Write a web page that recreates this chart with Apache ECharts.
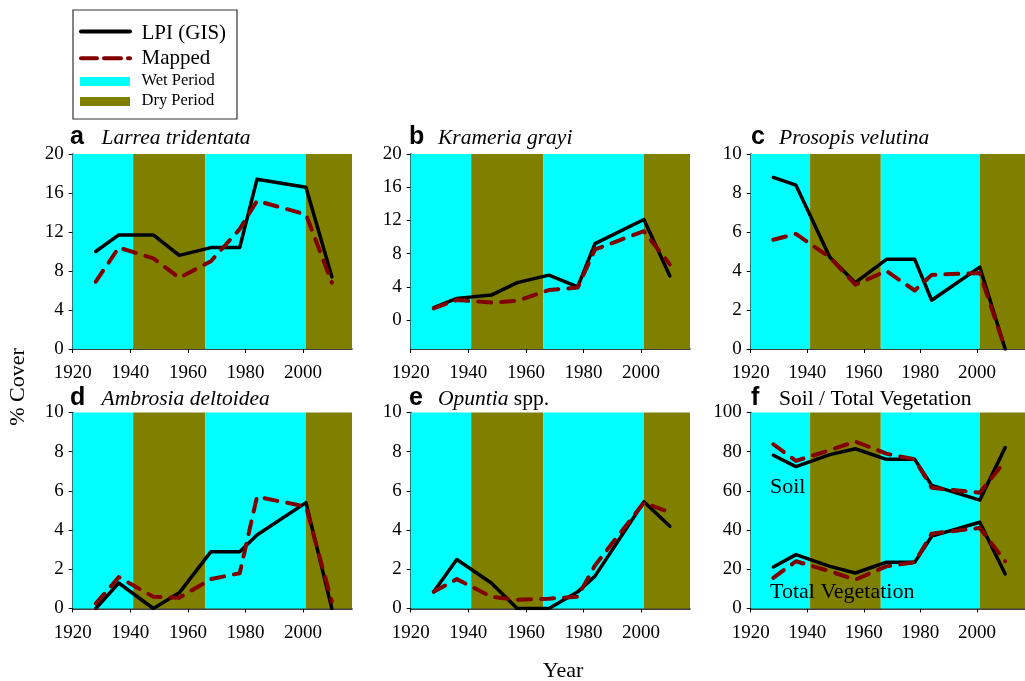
<!DOCTYPE html>
<html><head><meta charset="utf-8">
<script src="https://cdn.jsdelivr.net/npm/echarts@6/dist/echarts.min.js"></script>
<style>html,body{margin:0;padding:0;background:#fff}#c{width:1025px;height:681px}</style>
</head><body><div id="c"></div><script>
// ---- data ----
const years = [1928, 1936, 1948, 1957, 1968, 1978, 1984, 2001, 2010];
const xTicks = [1920, 1940, 1960, 1980, 2000];
const periods = [[1920, 1941, 'wet'], [1941, 1966, 'dry'], [1966, 2001, 'wet'], [2001, 2017, 'dry']];

const larreaLPI    = [10.0, 11.7, 11.7, 9.6, 10.4, 10.4, 17.4, 16.6, 7.4];
const larreaMapped = [6.9, 10.4, 9.3, 7.3, 9.0, 12.3, 15.2, 13.8, 6.8];
const kramLPI      = [1.5, 2.6, 3.0, 4.5, 5.4, 4.0, 9.2, 12.1, 5.3];
const kramMapped   = [1.4, 2.4, 2.1, 2.3, 3.6, 3.9, 8.5, 10.7, 6.7];
const prosLPI      = [8.8, 8.4, 4.7, 3.4, 4.6, 4.6, 2.5, 4.2, 0];
const prosMapped   = [5.6, 5.9, 4.7, 3.3, 4.0, 3.0, 3.8, 3.9, 0];
const ambLPI       = [0, 1.3, 0, 0.8, 2.9, 2.9, 3.75, 5.4, 0];
const ambMapped    = [0.25, 1.6, 0.6, 0.55, 1.5, 1.8, 5.7, 5.2, 0.35];
const opuLPI       = [0.85, 2.5, 1.3, 0, 0, 0.85, 1.65, 5.45, 4.2];
const opuMapped    = [0.85, 1.5, 0.6, 0.45, 0.5, 0.6, 2.2, 5.4, 4.9];
const soilLPI      = [78.2, 72.4, 78.5, 81.5, 76.1, 76.1, 62.8, 55.3, 82.1];
const soilMapped   = [83.8, 75.3, 80.8, 85.2, 79.0, 76.1, 61.6, 59.1, 75.3];
const vegLPI       = [21.2, 27.5, 21.5, 18.1, 23.6, 23.6, 36.9, 44.0, 17.6];
const vegMapped    = [15.6, 24.1, 19.0, 14.7, 21.5, 23.6, 38.2, 41.1, 24.1];

const yA = {min: 0, max: 20, ticks: [0, 4, 8, 12, 16, 20]};
const yB = {min: -3.5, max: 20, ticks: [0, 4, 8, 12, 16, 20]};
const yC = {min: 0, max: 10, ticks: [0, 2, 4, 6, 8, 10]};
const yF = {min: 0, max: 100, ticks: [0, 20, 40, 60, 80, 100]};

// ---- styling ----
const CYAN = '#00FFFF', OLIVE = '#808000', RED = '#800000';
const SERIF = 'Liberation Serif', SANS = 'Liberation Sans';
const colLeft = [72.7, 410.7, 750.7], panelW = 279.3;
const rowTop = [154, 412.5], panelH = [195, 196];

const panels = [
  {letter: 'a', title: '{i|Larrea tridentata}', y: yA, lines: [[larreaLPI, larreaMapped]]},
  {letter: 'b', title: '{i|Krameria grayi}', y: yB, lines: [[kramLPI, kramMapped]]},
  {letter: 'c', title: '{i|Prosopis velutina}', y: yC, lines: [[prosLPI, prosMapped]]},
  {letter: 'd', title: '{i|Ambrosia deltoidea}', y: yC, lines: [[ambLPI, ambMapped]]},
  {letter: 'e', title: '{i|Opuntia} spp.', y: yC, lines: [[opuLPI, opuMapped]]},
  {letter: 'f', title: 'Soil / Total Vegetation', y: yF, lines: [[soilLPI, soilMapped], [vegLPI, vegMapped]]}
];

const grids = [], xAxes = [], yAxes = [], series = [], graphics = [];
panels.forEach((p, i) => {
  const col = i % 3, row = Math.floor(i / 3);
  const left = colLeft[col], top = rowTop[row], h = panelH[row];
  grids.push({left: left, top: top, width: panelW, height: h, containLabel: false});
  xAxes.push({
    type: 'value', gridIndex: i, min: 1920, max: 2017,
    axisLine: {show: true, onZero: false, lineStyle: {color: '#000', width: 1.5}},
    axisTick: {show: true, length: 4, customValues: xTicks, lineStyle: {color: '#000'}},
    axisLabel: {customValues: xTicks, margin: 15, fontFamily: SERIF, fontSize: 19, color: '#000',
      formatter: v => String(v)},
    splitLine: {show: false}
  });
  yAxes.push({
    type: 'value', gridIndex: i, min: p.y.min, max: p.y.max,
    axisLine: {show: true, onZero: false, lineStyle: {color: '#000', width: 1.5}},
    axisTick: {show: true, length: 4, customValues: p.y.ticks, lineStyle: {color: '#000'}},
    axisLabel: {customValues: p.y.ticks, margin: 9, fontFamily: SERIF, fontSize: 19, color: '#000',
      formatter: v => String(v)},
    splitLine: {show: false}
  });
  p.lines.forEach((pair, k) => {
    const s = {
      type: 'line', name: 'LPI (GIS)', xAxisIndex: i, yAxisIndex: i,
      data: years.map((yr, j) => [yr, pair[0][j]]),
      symbol: 'none', z: 3, silent: true,
      lineStyle: {color: '#000', width: 3.5, cap: 'round', join: 'round'}
    };
    if (k === 0) {
      s.markArea = {silent: true, data: periods.map(pr => [
        {xAxis: pr[0], itemStyle: {color: pr[2] === 'wet' ? CYAN : OLIVE, opacity: 1}},
        {xAxis: pr[1]}
      ])};
    }
    series.push(s);
  });
  p.lines.forEach(pair => {
    series.push({
      type: 'line', name: 'Mapped', xAxisIndex: i, yAxisIndex: i,
      data: years.map((yr, j) => [yr, pair[1][j]]),
      symbol: 'none', z: 4, silent: true,
      lineStyle: {color: RED, width: 4, type: [13, 10], cap: 'round', join: 'round'}
    });
  });
  const baseY = row === 0 ? 146 : 407;
  graphics.push({type: 'text', z: 100, left: col === 0 ? 70 : (col === 1 ? 409 : 751), top: baseY - 21,
    style: {text: p.letter, font: 'bold 25px "' + SANS + '"', fill: '#000'}});
  graphics.push({type: 'text', z: 100, left: col === 0 ? 101.5 : (col === 1 ? 438 : 779), top: baseY - 19,
    style: {text: p.title, fontFamily: SERIF, fontSize: 21.5, fill: '#000',
      rich: {i: {fontFamily: SERIF, fontSize: 21.5, fontStyle: 'italic', color: '#000'}}}});
});

// panel f annotations
graphics.push({type: 'text', z: 100, left: 770, top: 476, style: {text: 'Soil', fontFamily: SERIF, fontSize: 22, fill: '#000'}});
graphics.push({type: 'text', z: 100, left: 770, top: 581, style: {text: 'Total Vegetation', fontFamily: SERIF, fontSize: 22, fill: '#000'}});
// axis titles
graphics.push({type: 'text', z: 100, x: 18, y: 387, rotation: Math.PI / 2,
  style: {text: '% Cover', fontFamily: SERIF, fontSize: 22, fill: '#000', align: 'center', verticalAlign: 'middle'}});
graphics.push({type: 'text', z: 100, x: 563, y: 671,
  style: {text: 'Year', fontFamily: SERIF, fontSize: 22, fill: '#000', align: 'center', verticalAlign: 'middle'}});
// legend box
graphics.push({type: 'rect', z: 100, shape: {x: 73, y: 10, width: 164, height: 109},
  style: {fill: '#fff', stroke: '#333', lineWidth: 1.2}});
graphics.push({type: 'line', z: 101, shape: {x1: 81, y1: 31.5, x2: 130, y2: 31.5}, style: {stroke: '#000', lineWidth: 4, lineCap: 'round'}});
graphics.push({type: 'line', z: 101, shape: {x1: 81, y1: 58.3, x2: 97, y2: 58.3}, style: {stroke: RED, lineWidth: 4, lineCap: 'round'}});
graphics.push({type: 'line', z: 101, shape: {x1: 104, y1: 58.3, x2: 121, y2: 58.3}, style: {stroke: RED, lineWidth: 4, lineCap: 'round'}});
graphics.push({type: 'line', z: 101, shape: {x1: 128, y1: 58.3, x2: 130, y2: 58.3}, style: {stroke: RED, lineWidth: 4, lineCap: 'round'}});
graphics.push({type: 'rect', z: 101, shape: {x: 80, y: 77, width: 50, height: 9}, style: {fill: CYAN}});
graphics.push({type: 'rect', z: 101, shape: {x: 80, y: 97, width: 50, height: 9}, style: {fill: OLIVE}});
graphics.push({type: 'text', z: 101, x: 141.5, y: 33, style: {text: 'LPI (GIS)', fontFamily: SERIF, fontSize: 21, fill: '#000', verticalAlign: 'middle'}});
graphics.push({type: 'text', z: 101, x: 141.5, y: 58, style: {text: 'Mapped', fontFamily: SERIF, fontSize: 21, fill: '#000', verticalAlign: 'middle'}});
graphics.push({type: 'text', z: 101, x: 141.5, y: 81, style: {text: 'Wet Period', fontFamily: SERIF, fontSize: 16.5, fill: '#000', verticalAlign: 'middle'}});
graphics.push({type: 'text', z: 101, x: 141.5, y: 101, style: {text: 'Dry Period', fontFamily: SERIF, fontSize: 16.5, fill: '#000', verticalAlign: 'middle'}});

const chart = echarts.init(document.getElementById('c'), null, {renderer: 'canvas'});
chart.setOption({
  animation: false,
  backgroundColor: '#fff',
  grid: grids, xAxis: xAxes, yAxis: yAxes, series: series, graphic: graphics
});
</script></body></html>
